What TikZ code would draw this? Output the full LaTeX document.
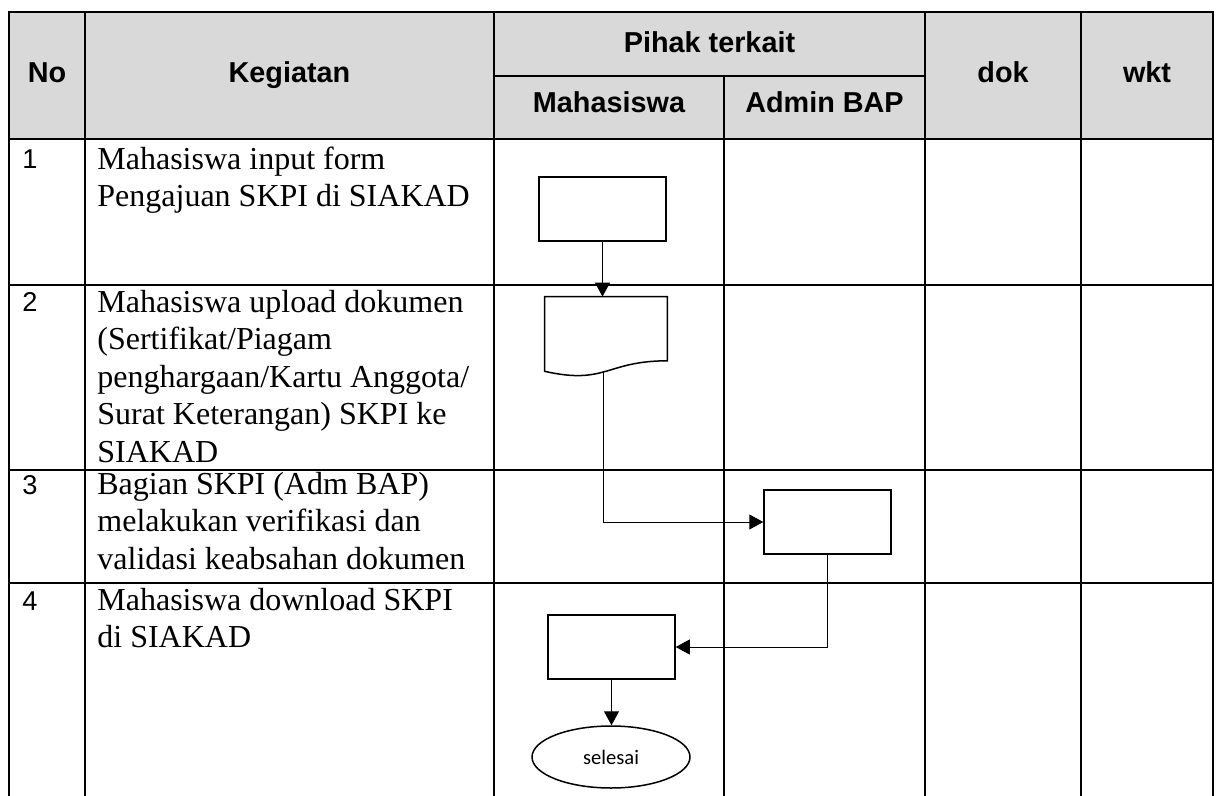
\documentclass[tikz,border=0pt]{standalone}
\usepackage{fontspec}
\setmainfont{Liberation Serif}
\setsansfont{Liberation Sans}
\newfontfamily\calibri{Carlito}
\usetikzlibrary{arrows.meta, shapes.geometric, calc}

\definecolor{headgray}{HTML}{D9D9D9}

\begin{document}
\begin{tikzpicture}[x=0.5pt, y=-0.5pt,
    grid/.style={line width=1.3pt},
    head/.style={anchor=base, inner sep=0pt, font=\sffamily\bfseries\fontsize{14.4}{16}\selectfont},
    nomor/.style={anchor=base west, inner sep=0pt, font=\sffamily\fontsize{13.6}{15}\selectfont},
    kegiatan/.style={anchor=north west, inner sep=0pt, align=left, font=\fontsize{16}{18.75}\selectfont},
    proses/.style={draw, line width=0.75pt, minimum width=63.5pt, minimum height=32pt, inner sep=0pt},
    alur/.style={line width=0.5pt, -{Triangle[length=7pt, width=7.5pt]}}]
        \useasboundingbox (0,0) rectangle (1219,796);

        % Kepala tabel
        \fill[headgray] (9,12) rectangle (1213,139);
        \draw[grid] (9,797) -- (9,12) -- (1213,12) -- (1213,797);
        \foreach \x in {85,494,925,1081} \draw[grid] (\x,12) -- (\x,797);
        \draw[grid] (724,76) -- (724,797);
        \draw[grid] (494,76) -- (925,76);
        \foreach \y in {139,285,470,583} \draw[grid] (9,\y) -- (1213,\y);

        \node[head] (hno) at (47,83) {No};
        \node[head] (hkeg) at (289.5,83) {Kegiatan};
        \node[head] (hpihak) at (709.5,53) {Pihak terkait};
        \node[head] (hmhs) at (609,113) {Mahasiswa};
        \node[head] (hadm) at (824.5,113) {Admin BAP};
        \node[head] (hdok) at (1003,83) {dok};
        \node[head] (hwkt) at (1147,83) {wkt};

        % Isi kegiatan
        \node[nomor] (n1) at (22,169) {1};
        \node[nomor] (n2) at (22,312) {2};
        \node[nomor] (n3) at (22,494) {3};
        \node[nomor] (n4) at (22,610) {4};
        \node[kegiatan] (k1) at (97,142.75) {\strut Mahasiswa input form\\Pengajuan SKPI di SIAKAD};
        \node[kegiatan] (k2) at (97,285.75) {\strut Mahasiswa upload dokumen\\(Sertifikat/Piagam\\penghargaan/Kartu Anggota/\\Surat Keterangan) SKPI ke\\SIAKAD};
        \node[kegiatan] (k3) at (97,467.75) {\strut Bagian SKPI (Adm BAP)\\melakukan verifikasi dan\\validasi keabsahan dokumen};
        \node[kegiatan] (k4) at (97,583.75) {\strut Mahasiswa download SKPI\\di SIAKAD};

        % Bagan alir
        \node[proses] (input) at (602.5,209) {};
        \node[minimum width=61pt, minimum height=40pt, inner sep=0pt] (upload) at (606,337) {};
        \draw[line width=0.75pt] (upload.north west) -- (upload.north east) -- ($(upload.north east)+(0,64.2)$)
            .. controls ($(upload.north)+(0,64.2)$) and ($(upload.north)+(0,88.6)$) .. ($(upload.north west)+(0,74.7)$) -- cycle;
        \coordinate (uploadb) at ($(upload.north)+(-3,74.6)$);
        \node[proses] (verif) at (827.5,522) {};
        \node[proses] (unduh) at (611.5,647) {};
        \node[ellipse, draw, line width=0.75pt, minimum width=79pt, minimum height=31pt, inner sep=0pt,
            font=\calibri\fontsize{10.3}{12}\selectfont] (selesai) at (611,757) {selesai};

        % Panah
        \draw[alur] (input.south) -- (input.south |- upload.north);
        \draw[alur] (uploadb) |- (verif.west);
        \draw[alur] (verif.south) |- (unduh.east);
        \draw[alur] (unduh.south) -- (unduh.south |- selesai.north);
    \end{tikzpicture}
\end{document}
